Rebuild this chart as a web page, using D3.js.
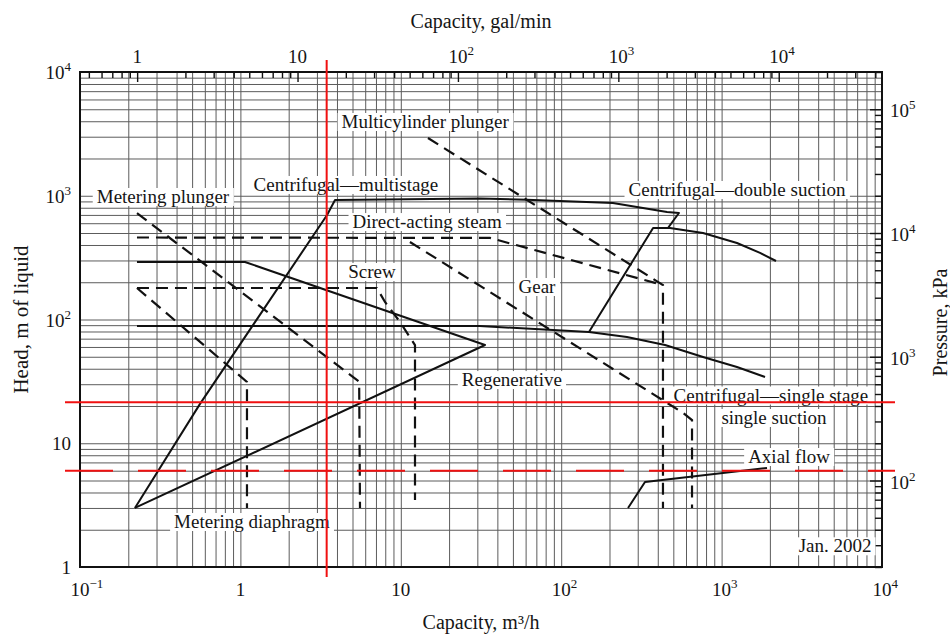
<!DOCTYPE html>
<html>
<head>
<meta charset="utf-8">
<script src="https://cdn.jsdelivr.net/npm/d3@7"></script>
<style>
  body { margin: 0; background: #fff; }
  text { font-family: "Liberation Serif", "Times New Roman", serif; fill: #151515; }
</style>
</head>
<body>
<div id="chart"></div>
<script>
// capacity in m3/h, head in m of liquid
const xTickValues = [0.1, 1, 10, 100, 1000, 10000];
const yTickValues = [1, 10, 100, 1000, 10000];
const galTickValues = [1, 10, 100, 1000, 10000];
const kpaTickValues = [100, 1000, 10000, 100000];
const GAL_TO_M3H = 0.2271;
const KPA_PER_M = 20; // right scale as printed

// solid boundaries [capacity, head]
const multistage = [[0.22, 3.0], [0.56, 20.8], [3.47, 699], [3.89, 924], [31, 950], [61, 930], [210, 874], [457, 739], [542, 725], [463, 549]];
const doubleSuction = [[149, 79.3], [374, 549], [476, 549], [766, 500], [1247, 415], [1736, 345], [2184, 297]];
const singleStage = [[0.2266, 88.6], [31, 88.6], [89, 82.3], [149, 79.3], [257, 72.2], [444, 62.2], [766, 49.8], [1247, 41.3], [1865, 34.3]];
const regenerative = [[0.2266, 291.5], [1.068, 291.5], [33.5, 62.2], [0.22, 3.0]];
const axialFlow = [[261, 3.0], [333, 4.86], [1919, 6.31]];

// dashed boundaries
const multicylinder = [[14.77, 2928], [431, 190], [431, 3.0]];
const directSteam = [[0.2266, 460], [36, 456], [431, 190]];
const gear = [[11.4, 423], [575, 17.6], [654, 15.4], [654, 3.0]];
const screwUpper = [[0.2266, 179.7], [7.1, 179.7], [7.97, 138.5], [9.89, 95.5], [12.26, 62], [12.26, 3.48]];
const screwLower = [[0.2266, 179.7], [1.099, 31.3], [1.099, 3.0]];
const meteringPlunger = [[0.2266, 725], [5.5, 31.5], [5.567, 3.0]];

const solidCurves = [multistage, doubleSuction, singleStage, regenerative, axialFlow];
const dashedCurves = [multicylinder, directSteam, gear, screwUpper, screwLower, meteringPlunger];

const labelTexts = ["Multicylinder plunger", "Centrifugal\u2014multistage", "Metering plunger", "Direct-acting steam",
  "Centrifugal\u2014double suction", "Screw", "Gear", "Regenerative", "Centrifugal\u2014single stage",
  "single suction", "Axial flow", "Metering diaphragm", "Jan. 2002"];
const labelQ = [14.2, 4.55, 0.329, 14.6, 1247, 6.61, 70.6, 49.3, 2030, 2120, 2633, 1.18, 5100];
const labelH = [3945, 1222, 977, 613, 1113, 242, 183, 32.4, 24.3, 16.0, 7.74, 2.31, 1.47];

// red marker lines
const redCapacity = 3.45;
const redHead = 21.4;
const redHeadDashed = 6;

const W = 950, H = 637;
const margin = {top: 72, right: 68, bottom: 70, left: 80};

const svg = d3.select('#chart').append('svg').attr('width', W).attr('height', H);
const x = d3.scaleLog().domain([0.1, 1e4]).range([margin.left, W - margin.right]);
const y = d3.scaleLog().domain([1, 1e4]).range([H - margin.bottom, margin.top]);
const xGal = d3.scaleLog().domain([0.1 / GAL_TO_M3H, 1e4 / GAL_TO_M3H]).range(x.range());
const yKpa = d3.scaleLog().domain([1 * KPA_PER_M, 1e4 * KPA_PER_M]).range(y.range());
const x0 = x.range()[0], x1 = x.range()[1], y0 = y.range()[0], y1 = y.range()[1];

// log paper grid
const grid = svg.append('g');
grid.append('g').attr('transform', `translate(0,${y0})`)
    .call(d3.axisBottom(x).tickValues(x.ticks()).tickSize(-(y0 - y1)).tickFormat(''));
grid.append('g').attr('transform', `translate(${x0},0)`)
    .call(d3.axisLeft(y).tickValues(y.ticks()).tickSize(-(x1 - x0)).tickFormat(''));
grid.selectAll('.domain').remove();
grid.selectAll('line').attr('stroke', '#5c5c5c').attr('stroke-width', 1);

// inner ticks of the top (gal/min) and right (kPa) scales
const galTicks = xGal.ticks();
const kpaTicks = yKpa.ticks();
const isPow = v => Math.abs(Math.log10(v) - Math.round(Math.log10(v))) < 1e-6;
const topAx = svg.append('g').attr('transform', `translate(0,${y1})`);
topAx.call(d3.axisTop(xGal).tickValues(galTicks).tickSize(-5).tickFormat(''));
topAx.selectAll('.tick line').attr('y2', d => isPow(d) ? 10 : 6).attr('stroke', '#111').attr('stroke-width', 1.4);
const rightAx = svg.append('g').attr('transform', `translate(${x1},0)`);
rightAx.call(d3.axisRight(yKpa).tickValues(kpaTicks).tickSize(-5).tickFormat(''));
rightAx.selectAll('.tick line').attr('x2', d => isPow(d) ? -12 : -7).attr('stroke', '#111').attr('stroke-width', 1.4);
svg.selectAll('.domain').remove();

// frame
svg.append('rect').attr('x', x0).attr('y', y1).attr('width', x1 - x0).attr('height', y0 - y1)
    .attr('fill', 'none').attr('stroke', '#111').attr('stroke-width', 2);

// power-of-ten tick labels
function powLabel(v, px, py, mode) {
  const e = Math.round(Math.log10(v));
  const t = svg.append('text').attr('font-size', 19).attr('y', py);
  if (e === 0 || e === 1) {
    t.text(e === 0 ? '1' : '10');
  } else {
    t.append('tspan').text('10');
    t.append('tspan').attr('dy', -8).attr('font-size', 13).text(e < 0 ? '\u2212' + (-e) : String(e));
  }
  if (mode === 'end') {
    t.attr('text-anchor', 'end').attr('x', px);
  } else if (mode === 'start') {
    t.attr('x', px);
  } else {
    const bw = t.node().getSubStringLength(0, e === 0 ? 1 : 2);
    t.attr('x', px - bw / 2);
  }
}
xTickValues.forEach(v => powLabel(v, x(v), y0 + 29, 'center'));
yTickValues.forEach(v => powLabel(v, 71, y(v) + 7, 'end'));
galTickValues.forEach(v => powLabel(v, xGal(v), y1 - 9, 'center'));
kpaTickValues.forEach(v => powLabel(v, x1 + 8, yKpa(v) + 8, 'start'));

// axis titles
svg.append('text').attr('x', (x0 + x1) / 2).attr('y', 28).attr('text-anchor', 'middle')
    .attr('font-size', 20).text('Capacity, gal/min');
svg.append('text').attr('x', (x0 + x1) / 2).attr('y', 629).attr('text-anchor', 'middle')
    .attr('font-size', 20).text('Capacity, m\u00b3/h');
svg.append('text').attr('transform', `translate(28,${(y0 + y1) / 2}) rotate(-90)`).attr('text-anchor', 'middle')
    .attr('font-size', 21).text('Head, m of liquid');
svg.append('text').attr('transform', `translate(947,${(y0 + y1) / 2 + 3}) rotate(-90)`).attr('text-anchor', 'middle')
    .attr('font-size', 20).text('Pressure, kPa');

// region labels with white boxes breaking the grid
labelTexts.forEach((s, i) => {
  const g = svg.append('g');
  const t = g.append('text').attr('x', x(labelQ[i])).attr('y', y(labelH[i]) + 6)
      .attr('text-anchor', 'middle').attr('font-size', 19).text(s);
  const b = t.node().getBBox();
  g.insert('rect', 'text').attr('x', b.x - 4).attr('y', b.y + 2).attr('width', b.width + 8).attr('height', b.height - 3)
      .attr('fill', '#fff');
});

// boundaries
const line = d3.line().x(d => x(d[0])).y(d => y(d[1]));
svg.append('g').selectAll('path').data(solidCurves).enter().append('path')
    .attr('d', line).attr('fill', 'none').attr('stroke', '#111').attr('stroke-width', 2)
    .attr('stroke-linejoin', 'round');
svg.append('g').selectAll('path').data(dashedCurves).enter().append('path')
    .attr('d', line).attr('fill', 'none').attr('stroke', '#111').attr('stroke-width', 2.2)
    .attr('stroke-dasharray', '12,7');

// red markers
const red = svg.append('g').attr('stroke', '#f01010').attr('stroke-width', 2);
red.append('line').attr('x1', x(redCapacity)).attr('x2', x(redCapacity)).attr('y1', y1 - 12).attr('y2', y0 + 10);
red.append('line').attr('x1', x0 - 15).attr('x2', x1 + 13).attr('y1', y(redHead)).attr('y2', y(redHead));
red.append('line').attr('x1', x0 - 15).attr('x2', x1 + 13).attr('y1', y(redHeadDashed)).attr('y2', y(redHeadDashed))
    .attr('stroke-dasharray', '48,25');
</script>
</body>
</html>
